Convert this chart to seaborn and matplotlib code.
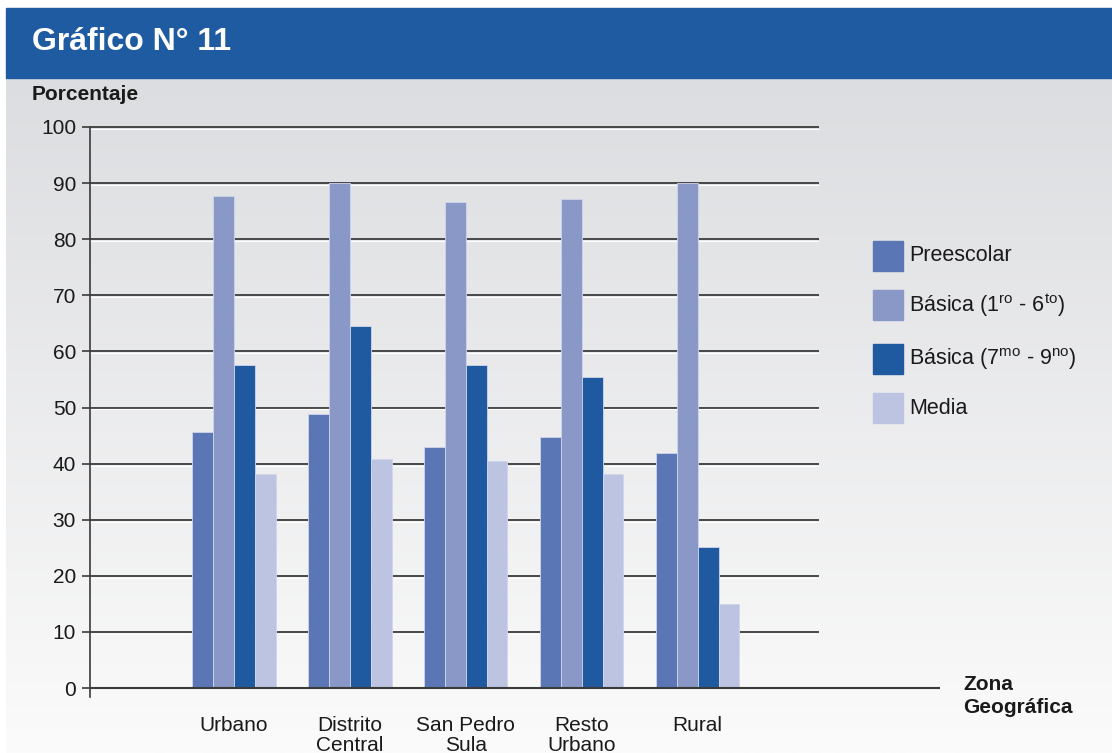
import numpy as np
import pandas as pd
import seaborn as sns
import matplotlib.pyplot as plt
from matplotlib.patches import Rectangle

sns.set_style("white")
plt.rcParams['font.family'] = ['Liberation Sans', 'DejaVu Sans']
plt.rcParams['mathtext.fontset'] = 'custom'
plt.rcParams['mathtext.rm'] = 'Liberation Sans'

zonas = ["Urbano", "Distrito\nCentral", "San Pedro\nSula", "Resto\nUrbano", "Rural"]
niveles = ["Preescolar", "Básica (1$^{\\mathrm{ro}}$ - 6$^{\\mathrm{to}}$)",
           "Básica (7$^{\\mathrm{mo}}$ - 9$^{\\mathrm{no}}$)", "Media"]
preescolar = [45.7, 48.9, 43.0, 44.7, 41.9]
basica_1_6 = [87.7, 90.0, 86.7, 87.2, 90.0]
basica_7_9 = [57.6, 64.6, 57.6, 55.4, 25.2]
media = [38.1, 40.9, 40.4, 38.1, 15.0]
colores = ["#5B76B4", "#8A98C8", "#1F5AA0", "#BCC4E2"]

df = pd.DataFrame({"zona": zonas * 4,
                   "nivel": np.repeat(niveles, len(zonas)),
                   "valor": preescolar + basica_1_6 + basica_7_9 + media})

fig = plt.figure(figsize=(11.12, 7.53), dpi=100)
fig.patch.set_facecolor("white")

# gradient background
bg = fig.add_axes([6 / 1112, 0, 1, 675 / 753])
grad = np.linspace(0, 1, 256).reshape(-1, 1)
bg.imshow(grad, aspect="auto", cmap=sns.blend_palette(["#DCDDE0", "#FBFBFB"], as_cmap=True),
          extent=[0, 1, 0, 1])
bg.axis("off")

# header band
fig.patches.append(Rectangle((6 / 1112, 1 - 78 / 753), 1, 70 / 753,
                             transform=fig.transFigure, color="#1F5BA0", zorder=0))
fig.text(32 / 1112, 1 - 42 / 753, "Gráfico N° 11", color="white", fontsize=23,
         fontweight="bold", va="center", ha="left")
fig.text(32 / 1112, 1 - 95 / 753, "Porcentaje", color="#1a1a1a", fontsize=15,
         fontweight="bold", va="center", ha="left")

ax = fig.add_axes([90 / 1112, 1 - 697 / 753, 850 / 1112, (697 - 127) / 753])
ax.set_facecolor("none")
sns.barplot(data=df, x="zona", y="valor", hue="nivel", palette=colores, width=0.72,
            gap=0, saturation=1, ax=ax, edgecolor="#D0D6EA", linewidth=0.6, zorder=3)

ax.set_xlim(-1.24, 6.09)
ax.set_ylim(-1.6, 100)
for v in range(10, 101, 10):
    ax.hlines(v, -1.24, 5.05, color="#3a3a3a", linewidth=1.3, zorder=1, clip_on=False)
    ax.hlines(v - 0.35, -1.24, 5.05, color="white", linewidth=0.8, zorder=1, clip_on=False)
ax.hlines(0, -1.24, 6.09, color="#3a3a3a", linewidth=1.5, zorder=4, clip_on=False)

for s in ["top", "right", "bottom"]:
    ax.spines[s].set_visible(False)
ax.spines["left"].set_color("#3a3a3a")
ax.spines["left"].set_linewidth(1.2)

ax.set_yticks(range(0, 101, 10))
ax.tick_params(axis="y", length=6, width=1.2, color="#3a3a3a", labelsize=15,
               labelcolor="#1a1a1a", left=True, pad=4)
ax.tick_params(axis="x", length=0, labelsize=15, labelcolor="#1a1a1a", pad=14)
for t in ax.get_xticklabels():
    t.set_linespacing(1.05)
ax.set_xlabel("")
ax.set_ylabel("")

fig.text(963 / 1112, 1 - 696 / 753, "Zona\nGeográfica", fontsize=15, fontweight="bold",
         color="#1a1a1a", ha="left", va="center", linespacing=1.3)

# legend
ys = [256, 305, 359, 408]
for y, lab, c in zip(ys, niveles, colores):
    fig.patches.append(Rectangle((873 / 1112, 1 - (y + 15) / 753), 30 / 1112, 30 / 753,
                                 transform=fig.transFigure, color=c))
    fig.text(909 / 1112, 1 - y / 753, lab, fontsize=15.5, color="#1a1a1a",
             ha="left", va="center")
ax.legend_.remove()

fig.savefig("out.png", dpi=100)
